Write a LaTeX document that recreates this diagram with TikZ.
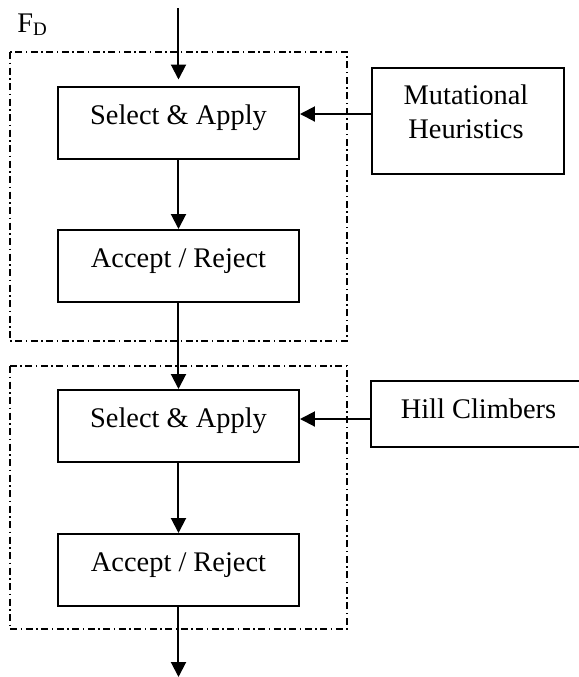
\documentclass[tikz,border=0pt]{standalone}
\usepackage{fontspec}
\setmainfont{Liberation Serif}
\usetikzlibrary{arrows.meta}
\begin{document}
\begin{tikzpicture}[x=0.5pt,y=-0.5pt,
  every node/.style={font=\fontsize{14.2}{17}\selectfont},
  stepbox/.style={draw, line width=1pt, minimum width=120.5pt, minimum height=36pt,
    inner sep=0pt, text height=4.5pt, text depth=3pt},
  sidebox/.style={draw, line width=1pt, inner sep=0pt},
  groupbox/.style={draw, line width=0.8pt,
    dash pattern=on 3.5pt off 1.75pt on 0.75pt off 1.75pt},
  flow/.style={line width=1pt, -{Triangle[length=7.5pt,width=7.5pt]}}
]
\useasboundingbox (0,0) rectangle (579,677);

% the two dash-dotted groups
\draw[groupbox] (10,52) rectangle (347,341);
\draw[groupbox] (10,366) rectangle (347,629);

% group label
\node[anchor=base west, inner sep=0pt] (fd) at (17,32)
  {F\raisebox{-1.5pt}{\fontsize{9.5}{10}\selectfont D}};

% main chain
\node[stepbox] (b1) at (178.5,122.5) {Select \& Apply};
\node[stepbox] (b2) at (178.5,266) {Accept / Reject};
\node[stepbox] (b3) at (178.5,426) {Select \& Apply};
\node[stepbox] (b4) at (178.5,570) {Accept / Reject};

% side inputs
\node[sidebox, minimum width=96pt, minimum height=53pt] (mh) at (468,121) {};
\node[align=center, anchor=north, inner sep=0pt] (mhtext) at (466,84.6)
  {Mutational\\Heuristics};
\node[sidebox, minimum width=107.5pt, minimum height=33pt,
  text height=7pt, text depth=3pt] (hc) at (478.5,414) {Hill Climbers};

% connectors
\coordinate (in) at (178.5,8);
\coordinate (out) at (178.5,677);
\draw[flow, shorten >=3pt] (in) -- (b1.north);
\draw[flow] (b1) -- (b2);
\draw[flow] (b2) -- (b3);
\draw[flow] (b3) -- (b4);
\draw[flow] (b4) -- (out);
\draw[flow] ([yshift=3.5pt]mh.west) coordinate (m1) -- (m1 -| b1.east);
\draw[flow] ([yshift=-2.5pt]hc.west) coordinate (h1) -- (h1 -| b3.east);
\end{tikzpicture}
\end{document}
